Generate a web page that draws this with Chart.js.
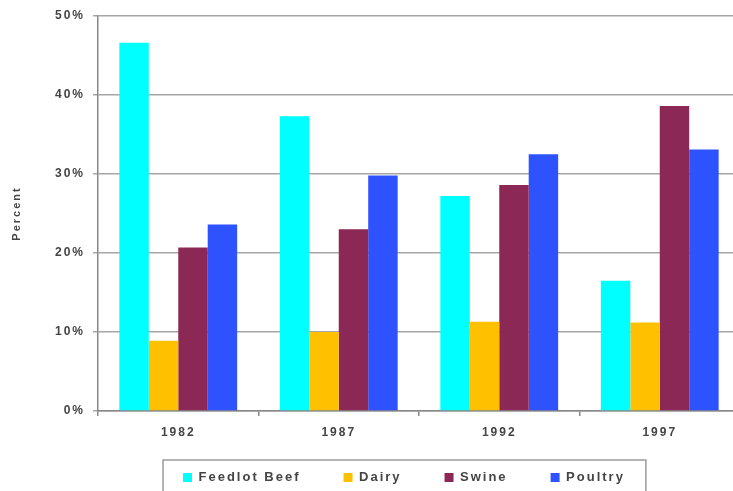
<!DOCTYPE html>
<html>
<head>
<meta charset="utf-8">
<script src="https://cdn.jsdelivr.net/npm/chart.js@4/dist/chart.umd.min.js"></script>
<style>
  html, body { margin: 0; padding: 0; overflow: hidden; background: #fff; }
  #wrap { position: relative; width: 742px; height: 500px; }
</style>
</head>
<body>
<div id="wrap"><canvas id="myChart"></canvas></div>
<script>
// values (percent of total)
const years = ['1982', '1987', '1992', '1997'];
const feedlotBeef = [46.6, 37.3, 27.2, 16.5];
const dairy = [8.9, 10.0, 11.3, 11.2];
const swine = [20.7, 23.0, 28.6, 38.6];
const poultry = [23.6, 29.8, 32.5, 33.1];
const yTicks = [0, 10, 20, 30, 40, 50];

const textColor = '#444';
const family = '"Liberation Sans", Arial, sans-serif';
const tickFont = { family: family, size: 12, weight: 'bold' };

// wide letter spacing like the scanned original
const spacing = {
    id: 'spacing',
    beforeUpdate(chart) { chart.ctx.letterSpacing = '2px'; },
    beforeDraw(chart) { chart.ctx.letterSpacing = '2px'; }
};

// move legend to where it sits in the picture and draw its frame
const legendBox = {
    id: 'legendBox',
    afterUpdate(chart) {
        const lg = chart.legend;
        if (!lg || !lg.legendHitBoxes.length) return;
        const first = lg.legendHitBoxes[0];
        const dx = 183 - first.left;
        const dy = 471 - first.top;
        lg.left += dx; lg.right += dx;
        lg.top += dy;
        lg.bottom = 520;
        lg.legendHitBoxes.forEach(h => { h.left += dx; h.top += dy; });
    },
    afterDraw(chart) {
        const lg = chart.legend;
        const hb = lg.legendHitBoxes;
        const right = Math.max(...hb.map(h => h.left + h.width));
        const ctx = chart.ctx;
        ctx.save();
        ctx.strokeStyle = '#9a9a9a';
        ctx.lineWidth = 1.5;
        ctx.strokeRect(163, 460, right + 21 - 163, 60);
        ctx.restore();
    }
};

const ctx = document.getElementById('myChart').getContext('2d');
const chart = new Chart(ctx, {
    type: 'bar',
    data: {
        labels: years,
        datasets: [
            { label: 'Feedlot Beef', data: feedlotBeef, backgroundColor: '#00ffff' },
            { label: 'Dairy', data: dairy, backgroundColor: '#ffc000' },
            { label: 'Swine', data: swine, backgroundColor: '#8c2856' },
            { label: 'Poultry', data: poultry, backgroundColor: '#2f52ff' }
        ]
    },
    options: {
        responsive: true,
        maintainAspectRatio: false,
        animation: false,
        datasets: { bar: { categoryPercentage: 0.734, barPercentage: 1 } },
        layout: { padding: { top: 16, left: 0, right: 2, bottom: 0 } },
        scales: {
            x: {
                grid: { offset: true, drawOnChartArea: false, tickLength: 5, color: '#888', lineWidth: 1.5 },
                border: { color: '#888', width: 1.5 },
                ticks: { color: textColor, font: tickFont, padding: 9 },
                afterFit(s) { s.height = 49; }
            },
            y: {
                min: 0,
                max: 50,
                afterBuildTicks(s) { s.ticks = yTicks.map(v => ({ value: v })); },
                grid: { color: '#a6a6a6', lineWidth: 1.5, tickLength: 5 },
                border: { color: '#888', width: 1.5 },
                ticks: { color: textColor, font: tickFont, padding: 8, callback: v => v + '%' },
                title: { display: true, text: 'Percent', color: textColor, font: { family: family, size: 11, weight: 'bold' }, padding: { top: 10, bottom: 0 } },
                afterFit(s) { s.width = 98; }
            }
        },
        plugins: {
            legend: {
                position: 'bottom',
                maxHeight: 40,
                labels: {
                    color: textColor,
                    font: { family: family, size: 13, weight: 'bold' },
                    boxWidth: 9,
                    boxHeight: 9,
                    padding: 43
                }
            },
            tooltip: { enabled: false }
        }
    },
    plugins: [spacing, legendBox]
});
</script>
</body>
</html>
